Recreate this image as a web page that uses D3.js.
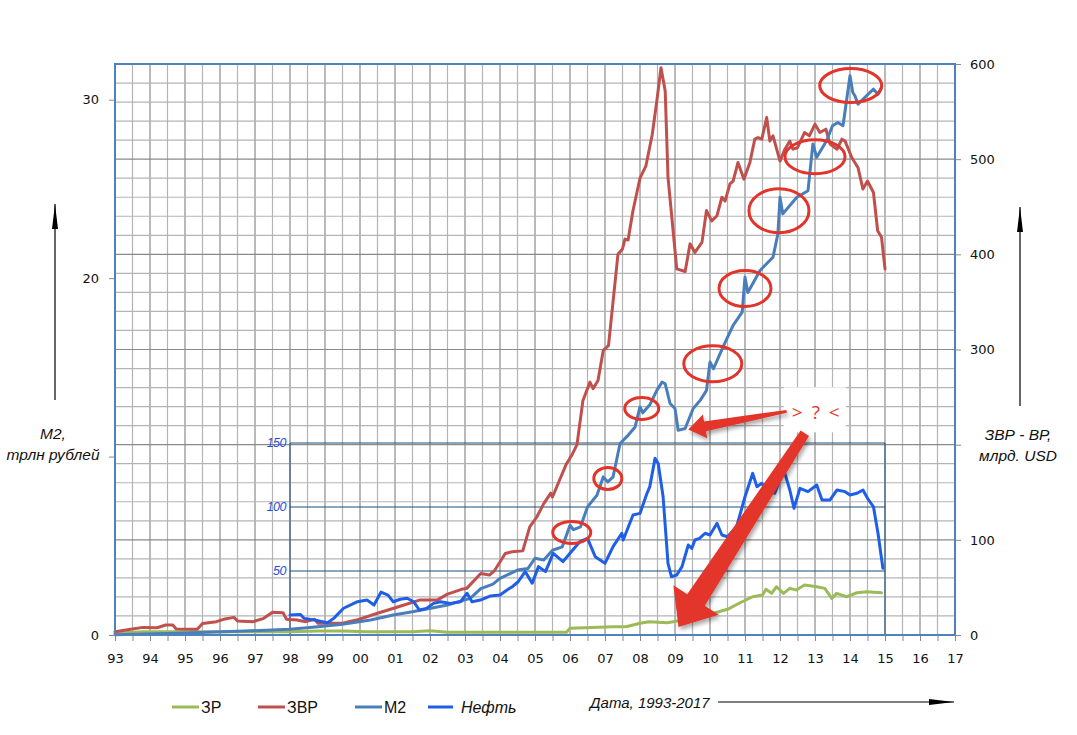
<!DOCTYPE html>
<html>
<head>
<meta charset="utf-8">
<script src="https://cdn.jsdelivr.net/npm/d3@7"></script>
<style>
body { margin: 0; background: #fff; }
svg { display: block; }
</style>
</head>
<body>
<div id="chart"></div>
<script>
// ЗВР, млрд. USD (правая ось) - [год, значение]
var zvr = [
    [1993.00, 3.5], [1993.45, 6], [1993.80, 8], [1994.20, 7.6], [1994.45, 10.5], [1994.65, 10.5],
    [1994.75, 6.3], [1995.35, 6], [1995.50, 12], [1995.90, 14], [1996.10, 16.5], [1996.40, 18.5],
    [1996.50, 14.7], [1996.95, 14], [1997.25, 17.5], [1997.50, 24], [1997.80, 23.5], [1997.90, 16.5],
    [1998.20, 15.7], [1998.45, 14], [1998.70, 16.5], [1998.80, 12.3], [1999.10, 12.3], [1999.50, 12.3],
    [1999.90, 15.7], [2000.50, 22.8], [2001.10, 29.7], [2001.70, 36.7], [2002.20, 36.7], [2002.50, 43],
    [2002.90, 48], [2003.05, 49], [2003.45, 64.7], [2003.70, 63], [2003.85, 68], [2004.15, 85.7],
    [2004.35, 87.4], [2004.65, 88.4], [2004.85, 113.6], [2005.05, 124], [2005.25, 138], [2005.45, 149],
    [2005.50, 145], [2005.70, 162.6], [2005.90, 180], [2006.05, 188.8], [2006.20, 200], [2006.37, 246.5],
    [2006.57, 265.7], [2006.66, 258.8], [2006.80, 267.5], [2006.95, 299], [2007.10, 304], [2007.37, 400],
    [2007.50, 405.6], [2007.57, 416], [2007.66, 415], [2007.80, 446], [2008.00, 480], [2008.17, 493],
    [2008.35, 526], [2008.48, 561], [2008.60, 596], [2008.72, 571.7], [2008.80, 480.8], [2009.05, 384.7],
    [2009.29, 382], [2009.43, 411], [2009.57, 402], [2009.77, 412.6], [2009.90, 446], [2010.05, 435],
    [2010.20, 440.6], [2010.34, 460], [2010.43, 456], [2010.57, 474], [2010.66, 477], [2010.80, 496.5],
    [2010.97, 479], [2011.14, 496.5], [2011.28, 521], [2011.37, 522.7], [2011.48, 521], [2011.62, 543.7],
    [2011.71, 519], [2011.80, 524.5], [2012.00, 498], [2012.14, 510.5], [2012.28, 519], [2012.37, 510.5],
    [2012.50, 512], [2012.70, 528], [2012.84, 524.5], [2013.00, 536.8], [2013.14, 528], [2013.31, 531.5],
    [2013.43, 516], [2013.63, 510.5], [2013.77, 521], [2013.86, 519], [2014.05, 501.7], [2014.23, 491],
    [2014.37, 468.6], [2014.50, 477], [2014.67, 465], [2014.79, 424.8], [2014.90, 418], [2015.00, 384.7]
];

// ЗР, млрд. USD (правая ось)
var zr = [
    [1993.00, 1.8], [1993.80, 3.5], [1998.00, 3.5], [1998.80, 4.2], [1999.50, 4.2], [2000.20, 3.5],
    [2001.50, 3.5], [2002.00, 4.5], [2002.50, 2.8], [2005.90, 2.8], [2006.00, 7], [2007.23, 8.7],
    [2007.60, 8.7], [2008.00, 12.3], [2008.26, 14], [2008.77, 12.9], [2008.95, 14], [2009.72, 19.2],
    [2010.10, 22.8], [2010.50, 27], [2010.86, 33.9], [2011.22, 40.2], [2011.50, 42], [2011.60, 48],
    [2011.76, 43.7], [2011.90, 50.7], [2012.10, 43.7], [2012.28, 49], [2012.47, 47.2], [2012.70, 52.5],
    [2013.05, 50.7], [2013.28, 49], [2013.48, 38.5], [2013.62, 43.7], [2013.90, 40.2], [2014.20, 44.4],
    [2014.48, 45.4], [2014.90, 44.4]
];

// М2, трлн рублей (левая ось)
var m2 = [
    [1993.00, 0.02], [1994.80, 0.1], [1996.70, 0.22], [1998.00, 0.32], [1998.80, 0.46], [1999.50, 0.6],
    [2000.30, 0.84], [2000.95, 1.12], [2001.50, 1.3], [2002.50, 1.68], [2003.15, 2.05], [2003.45, 2.6],
    [2003.80, 2.85], [2004.00, 3.17], [2004.50, 3.64], [2004.80, 3.73], [2005.00, 4.3], [2005.25, 4.2],
    [2005.50, 4.75], [2005.78, 4.94], [2006.00, 6.15], [2006.10, 5.9], [2006.30, 6.06], [2006.50, 7.18],
    [2006.77, 7.83], [2006.95, 8.86], [2007.08, 8.58], [2007.23, 8.86], [2007.43, 10.73], [2007.66, 11.19],
    [2007.86, 11.66], [2008.00, 12.78], [2008.08, 12.45], [2008.28, 12.9], [2008.48, 13.71], [2008.63, 14.17],
    [2008.72, 14.08], [2008.86, 12.97], [2009.00, 12.69], [2009.09, 11.47], [2009.29, 11.57], [2009.52, 12.69],
    [2009.72, 13.15], [2009.90, 13.71], [2010.00, 15.3], [2010.10, 14.92], [2010.37, 16.13], [2010.66, 17.35],
    [2010.92, 18.09], [2011.00, 20.05], [2011.08, 19.2], [2011.43, 20.43], [2011.80, 21.17], [2011.94, 22.48],
    [2012.00, 24.53], [2012.08, 23.6], [2012.48, 24.53], [2012.80, 24.9], [2012.94, 27.52], [2013.05, 26.77],
    [2013.33, 27.7], [2013.50, 28.54], [2013.65, 28.72], [2013.80, 28.54], [2013.90, 29.94], [2014.00, 31.34],
    [2014.08, 30.4], [2014.14, 30.22], [2014.23, 29.75], [2014.42, 30.12], [2014.67, 30.59], [2014.80, 30.3],
    [2014.90, 30.68]
];

// Нефть, USD/баррель (внутренняя ось)
var oil = [
    [1998.00, 15.6], [1998.30, 16.1], [1998.40, 13], [1998.70, 11.7], [1999.07, 9.6], [1999.25, 13],
    [1999.53, 20.9], [1999.93, 26], [2000.20, 27.3], [2000.40, 23.4], [2000.60, 33.5], [2000.80, 31.2],
    [2000.95, 26], [2001.15, 27.9], [2001.35, 28.7], [2001.53, 26], [2001.70, 19.5], [2001.90, 20.8],
    [2002.10, 24.7], [2002.30, 26], [2002.58, 24.7], [2002.87, 26], [2003.06, 32.6], [2003.20, 26],
    [2003.44, 27.3], [2003.73, 30.5], [2004.00, 31.2], [2004.20, 35.2], [2004.35, 37.7], [2004.52, 41.6],
    [2004.72, 49.5], [2004.92, 40.4], [2005.10, 53.4], [2005.30, 49.5], [2005.52, 63.8], [2005.80, 57.3],
    [2006.00, 63.8], [2006.28, 72.9], [2006.50, 75.5], [2006.72, 61.2], [2007.00, 56], [2007.23, 69],
    [2007.48, 79.5], [2007.52, 74.2], [2007.80, 93.8], [2008.00, 95], [2008.20, 110.7], [2008.28, 115.9],
    [2008.43, 138], [2008.52, 134], [2008.66, 108], [2008.80, 56], [2008.90, 45.5], [2009.05, 46.9],
    [2009.20, 53.4], [2009.38, 70.3], [2009.48, 67.7], [2009.57, 74.2], [2009.70, 75.5], [2009.86, 79.5],
    [2010.00, 78.1], [2010.20, 87.3], [2010.34, 78.1], [2010.50, 76.8], [2010.76, 84.6], [2011.00, 108],
    [2011.22, 126.3], [2011.34, 115.9], [2011.48, 118.5], [2011.65, 112], [2011.85, 110.7], [2012.05, 125],
    [2012.14, 126.3], [2012.28, 113.3], [2012.40, 99], [2012.57, 114.6], [2012.80, 112], [2013.05, 117.2],
    [2013.20, 105.5], [2013.43, 105.5], [2013.63, 113.3], [2013.86, 112], [2014.00, 109.4], [2014.20, 110.7],
    [2014.37, 113.3], [2014.50, 106.8], [2014.67, 100.2], [2014.80, 79.5], [2014.94, 52.1]
];

var leftTicks = [0, 10, 20, 30];
var rightTicks = [0, 100, 200, 300, 400, 500, 600];
var oilTicks = [50, 100, 150];
var legendNames = ["ЗР", "ЗВР", "М2", "Нефть"];

// выделенные скачки М2: [год, М2]
var m2Jumps = [
    [2006.05, 5.75], [2007.08, 8.77], [2008.05, 12.69], [2010.08, 15.2],
    [2011.00, 19.42], [2011.97, 23.78], [2013.00, 26.8], [2014.02, 30.79]
];
var jumpRadii = [[19, 11], [14, 11], [17, 11], [29, 18], [26, 18], [30, 22], [30, 17], [31, 17]];

//---------------------------------------------------------
var svgWidth = 1077;
var svgHeight = 735;

var margin = { top: 64, right: 122, bottom: 100, left: 115 };
var width = svgWidth - margin.left - margin.right;
var height = svgHeight - margin.top - margin.bottom;

var colors = { zr: "#9bbb59", zvr: "#c0504d", m2: "#4a7ebb", oil: "#1f5fe6" };
var red = "#e3342b";

var svg = d3.select("#chart")
    .append("svg")
    .attr("width", svgWidth)
    .attr("height", svgHeight)
    .style("font-family", "'DejaVu Sans', sans-serif");

var defs = svg.append("defs");
var sh = defs.append("filter").attr("id", "shadow")
    .attr("x", "-20%").attr("y", "-20%").attr("width", "140%").attr("height", "140%");
sh.append("feDropShadow").attr("dx", 2).attr("dy", 3).attr("stdDeviation", 2)
    .attr("flood-color", "#000").attr("flood-opacity", 0.35);

var chartGroup = svg.append("g")
    .attr("transform", `translate(${margin.left}, ${margin.top})`);

// scales
var x = d3.scaleLinear().domain([1993, 2017]).range([0, width]);
var yLeft = d3.scaleLinear().domain([0, 32]).range([height, 0]);
var yRight = d3.scaleLinear().domain([0, 600]).range([height, 0]);
var yOil = d3.scaleLinear().domain([0, 150]).range([height, height - 192]);

// grid
var halfYears = d3.range(1993, 2017.01, 0.5);
chartGroup.append("g").selectAll("line")
    .data(halfYears)
    .enter().append("line")
    .attr("x1", d => x(d)).attr("x2", d => x(d))
    .attr("y1", 0).attr("y2", height)
    .attr("stroke", d => Number.isInteger(d) ? "#8a8a8a" : "#b4b4b4")
    .attr("stroke-width", 1.2);

chartGroup.append("g").selectAll("line")
    .data(d3.range(0, 601, 20))
    .enter().append("line")
    .attr("x1", 0).attr("x2", width)
    .attr("y1", d => yRight(d)).attr("y2", d => yRight(d))
    .attr("stroke", d => d % 100 === 0 ? "#8a8a8a" : "#b4b4b4")
    .attr("stroke-width", 1.2);

// oil inner box
var oilBox = chartGroup.append("g");
oilBox.selectAll("line.h")
    .data(oilTicks)
    .enter().append("line")
    .attr("x1", x(1998)).attr("x2", x(2015))
    .attr("y1", d => yOil(d)).attr("y2", d => yOil(d))
    .attr("stroke", "#1f4e79").attr("stroke-width", 1);
oilBox.selectAll("line.v")
    .data([1998, 2015])
    .enter().append("line")
    .attr("x1", d => x(d)).attr("x2", d => x(d))
    .attr("y1", yOil(150)).attr("y2", height)
    .attr("stroke", "#1f4e79").attr("stroke-width", 1);
oilBox.selectAll("text")
    .data(oilTicks)
    .enter().append("text")
    .attr("x", x(1998) - 4)
    .attr("y", d => yOil(d))
    .attr("dy", "0.35em")
    .attr("text-anchor", "end")
    .style("font-family", "'Liberation Sans', Arial, sans-serif")
    .style("font-style", "italic")
    .style("font-size", "12.5px")
    .style("letter-spacing", "-0.5px")
    .attr("fill", "#2150d8")
    .text(d => d);

// series
function drawLine(data, yScale, color) {
    var line = d3.line()
        .x(d => x(d[0]))
        .y(d => yScale(d[1]));
    chartGroup.append("path")
        .datum(data)
        .attr("d", line)
        .attr("fill", "none")
        .attr("stroke", color)
        .attr("stroke-width", 3)
        .attr("stroke-linejoin", "round")
        .attr("stroke-linecap", "round");
}
drawLine(zr, yRight, colors.zr);
drawLine(zvr, yRight, colors.zvr);
drawLine(m2, yLeft, colors.m2);
drawLine(oil, yOil, colors.oil);

// axes (labels 10 and 200 are hidden behind the axis titles in the original)
var bottomAxis = d3.axisBottom(x)
    .tickValues(halfYears)
    .tickSize(6)
    .tickPadding(13)
    .tickFormat(d => Number.isInteger(d) ? String(d % 100).padStart(2, "0") : "");
var leftAxis = d3.axisLeft(yLeft).tickValues(leftTicks).tickSize(6).tickPadding(10)
    .tickFormat(d => d === 10 ? "" : d);
var rightAxis = d3.axisRight(yRight).tickValues(rightTicks).tickSize(6).tickPadding(9)
    .tickFormat(d => d === 200 ? "" : d);

function styleAxis(g) {
    g.selectAll(".tick line").attr("stroke", "#888");
    g.selectAll(".tick text").attr("fill", "#111").style("font-size", "13px")
        .style("font-family", "'DejaVu Sans', sans-serif");
    g.select(".domain").remove();
}

chartGroup.append("g")
    .attr("transform", `translate(0, ${height})`)
    .call(bottomAxis).call(styleAxis);
chartGroup.append("g").call(leftAxis).call(styleAxis);
chartGroup.append("g")
    .attr("transform", `translate(${width}, 0)`)
    .call(rightAxis).call(styleAxis);

// frame
var frame = chartGroup.append("g").attr("stroke", "#4f81bd").attr("stroke-width", 2).attr("fill", "none");
frame.append("path").attr("d", `M0,${height}V0H${width}V${height}`);
frame.append("line").attr("x1", 0).attr("x2", width).attr("y1", height).attr("y2", height);

// annotations: ellipses
chartGroup.append("g").selectAll("ellipse")
    .data(m2Jumps)
    .enter().append("ellipse")
    .attr("cx", d => x(d[0]))
    .attr("cy", d => yLeft(d[1]))
    .attr("rx", (d, i) => jumpRadii[i][0])
    .attr("ry", (d, i) => jumpRadii[i][1])
    .attr("fill", "none")
    .attr("stroke", red)
    .attr("stroke-width", 3);

// annotations: "> ? <" and arrows (coordinates in year / right axis units)
var qMark = [2013.05, 234];
var arrows = [
    { from: [2012.19, 235], to: [2009.38, 216], w0: 3, w1: 10, hw: 12, hl: 17 },
    { from: [2012.71, 212], to: [2009.10, 8.5], w0: 10, w1: 21, hw: 27, hl: 32 }
];

function arrowPath(a) {
    var x0 = x(a.from[0]), y0 = yRight(a.from[1]);
    var x1 = x(a.to[0]), y1 = yRight(a.to[1]);
    var dx = x1 - x0, dy = y1 - y0;
    var len = Math.sqrt(dx * dx + dy * dy);
    var ux = dx / len, uy = dy / len;
    var nx = -uy, ny = ux;
    var bx = x1 - ux * a.hl, by = y1 - uy * a.hl;
    var pts = [
        [x0 + nx * a.w0 / 2, y0 + ny * a.w0 / 2],
        [bx + nx * a.w1 / 2, by + ny * a.w1 / 2],
        [bx + nx * a.hw, by + ny * a.hw],
        [x1, y1],
        [bx - nx * a.hw, by - ny * a.hw],
        [bx - nx * a.w1 / 2, by - ny * a.w1 / 2],
        [x0 - nx * a.w0 / 2, y0 - ny * a.w0 / 2]
    ];
    return "M" + pts.map(p => p.join(",")).join("L") + "Z";
}

chartGroup.append("rect")
    .attr("x", x(qMark[0]) - 33).attr("y", yRight(qMark[1]) - 25)
    .attr("width", 62).attr("height", 45)
    .attr("fill", "#fff");

chartGroup.append("g").selectAll("path")
    .data(arrows)
    .enter().append("path")
    .attr("d", arrowPath)
    .attr("fill", red)
    .attr("filter", "url(#shadow)");

chartGroup.append("text")
    .attr("x", x(qMark[0]))
    .attr("y", yRight(qMark[1]))
    .attr("dy", "0.35em")
    .attr("text-anchor", "middle")
    .attr("fill", red)
    .style("font-family", "'Open Sans', sans-serif")
    .style("font-size", "19px")
    .style("letter-spacing", "2px")
    .text("> ? <");

// axis titles
function axisTitle(lines, cx, y0) {
    var t = svg.append("text")
        .attr("text-anchor", "middle")
        .style("font-family", "'Liberation Sans', Arial, sans-serif")
        .style("font-style", "italic")
        .style("font-size", "15.5px")
        .attr("fill", "#111");
    lines.forEach(function (s, i) {
        t.append("tspan").attr("x", cx).attr("y", y0 + i * 21).text(s);
    });
}
axisTitle(["M2,", "трлн рублей"], 53, 439);
axisTitle(["ЗВР - ВР,", "млрд. USD"], 1018, 440);

// axis arrows
function arrowLine(x1, y1, x2, y2) {
    svg.append("line")
        .attr("x1", x1).attr("y1", y1).attr("x2", x2).attr("y2", y2)
        .attr("stroke", "#000").attr("stroke-width", 1.2);
    var ang = Math.atan2(y2 - y1, x2 - x1);
    var L = 25, W = 3;
    var bx = x2 - Math.cos(ang) * L, by = y2 - Math.sin(ang) * L;
    var nx = -Math.sin(ang), ny = Math.cos(ang);
    svg.append("path")
        .attr("d", `M${x2},${y2}L${bx + nx * W},${by + ny * W}L${bx - nx * W},${by - ny * W}Z`)
        .attr("fill", "#000");
}
arrowLine(55, 400, 55, 204);
arrowLine(1020, 406, 1020, 207);
arrowLine(718, 702, 954, 702);

svg.append("text")
    .attr("x", 590).attr("y", 708)
    .style("font-family", "'Liberation Sans', Arial, sans-serif")
    .style("font-style", "italic")
    .style("font-size", "15px")
    .attr("fill", "#111")
    .text("Дата, 1993-2017");

// legend
var legendX = [172, 258, 355, 428];
var legendColors = [colors.zr, colors.zvr, colors.m2, colors.oil];
var legend = svg.append("g").selectAll("g")
    .data(legendNames)
    .enter().append("g")
    .attr("transform", (d, i) => `translate(${legendX[i]}, 707)`);
legend.append("line")
    .attr("x1", 0).attr("x2", (d, i) => i === 3 ? 25 : 27)
    .attr("y1", 0).attr("y2", 0)
    .attr("stroke", (d, i) => legendColors[i])
    .attr("stroke-width", 3);
legend.append("text")
    .attr("x", (d, i) => i === 3 ? 33 : 29)
    .attr("y", 6)
    .style("font-family", "'Liberation Sans', Arial, sans-serif")
    .style("font-size", "16px")
    .style("font-style", (d, i) => i === 3 ? "italic" : "normal")
    .attr("fill", "#111")
    .text(d => d);
</script>
</body>
</html>
